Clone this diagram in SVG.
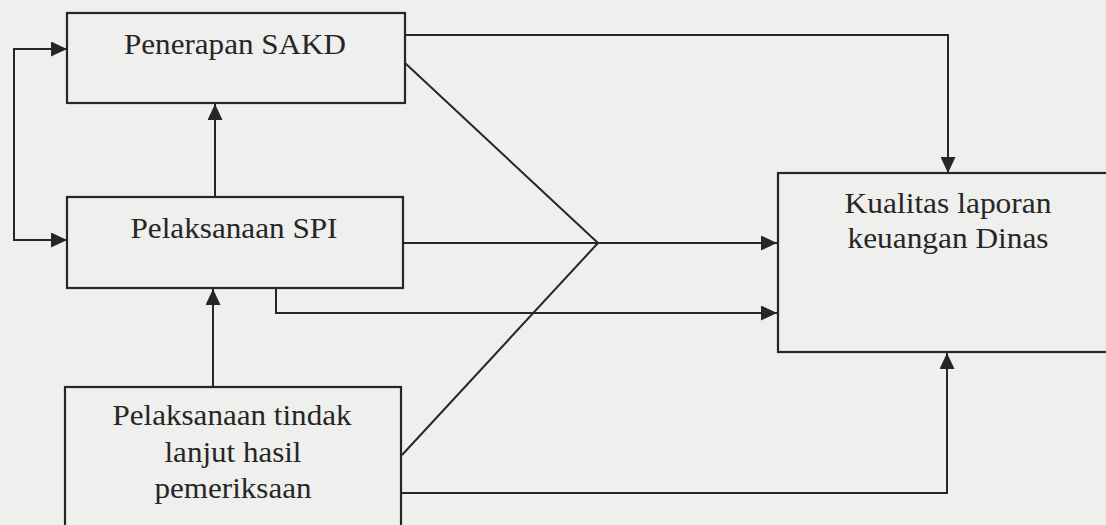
<svg xmlns="http://www.w3.org/2000/svg" width="1106" height="525" viewBox="0 0 1106 525">
<style>
.box{fill:none;stroke:#262626;stroke-width:2.2}
.ln{fill:none;stroke:#262626;stroke-width:2}
.t{font-size:29px;fill:#262626;text-anchor:middle}
</style>
<defs>
<marker id="ah" viewBox="0 0 16 15" refX="16" refY="7.5" markerWidth="16" markerHeight="15" markerUnits="userSpaceOnUse" orient="auto">
<path d="M0,0 L16,7.5 L0,15 Z" fill="#262626"/>
</marker>
<marker id="ahs" viewBox="0 0 16 15" refX="16" refY="7.5" markerWidth="16" markerHeight="15" markerUnits="userSpaceOnUse" orient="auto-start-reverse">
<path d="M0,0 L16,7.5 L0,15 Z" fill="#262626"/>
</marker>
</defs>
<rect width="1106" height="525" fill="#efefed"/>
<g id="connectors">
<path class="ln" d="M67,49 H14 V240 H67" marker-start="url(#ahs)" marker-end="url(#ah)"/>
<path class="ln" d="M215,197 V104" marker-end="url(#ah)"/>
<path class="ln" d="M213,387 V289" marker-end="url(#ah)"/>
<path class="ln" d="M405,35 H948 V173" marker-end="url(#ah)"/>
<path class="ln" d="M405,63 L598,243"/>
<path class="ln" d="M402,455 L598,243"/>
<path class="ln" d="M403,243 H777" marker-end="url(#ah)"/>
<path class="ln" d="M276,288 V313 H777" marker-end="url(#ah)"/>
<path class="ln" d="M401,493 H947 V353" marker-end="url(#ah)"/>
</g>
<g font-family="Liberation Serif, serif">
<g id="n1">
<rect class="box" x="67" y="13" width="338" height="90"/>
<text class="t" x="235" y="54" textLength="222" lengthAdjust="spacingAndGlyphs">Penerapan SAKD</text>
</g>
<g id="n2">
<rect class="box" x="67" y="197" width="336" height="91"/>
<text class="t" x="234" y="238" textLength="207" lengthAdjust="spacingAndGlyphs">Pelaksanaan SPI</text>
</g>
<g id="n3">
<rect class="box" x="65" y="387" width="336" height="150"/>
<text class="t" x="232" y="425" textLength="239" lengthAdjust="spacingAndGlyphs">Pelaksanaan tindak</text>
<text class="t" x="233" y="462" textLength="137" lengthAdjust="spacingAndGlyphs">lanjut hasil</text>
<text class="t" x="233" y="498" textLength="157" lengthAdjust="spacingAndGlyphs">pemeriksaan</text>
</g>
<g id="n4">
<rect class="box" x="778" y="173" width="340" height="179"/>
<text class="t" x="948" y="213" textLength="207" lengthAdjust="spacingAndGlyphs">Kualitas laporan</text>
<text class="t" x="948" y="248" textLength="201" lengthAdjust="spacingAndGlyphs">keuangan Dinas</text>
</g>
</g>
</svg>
